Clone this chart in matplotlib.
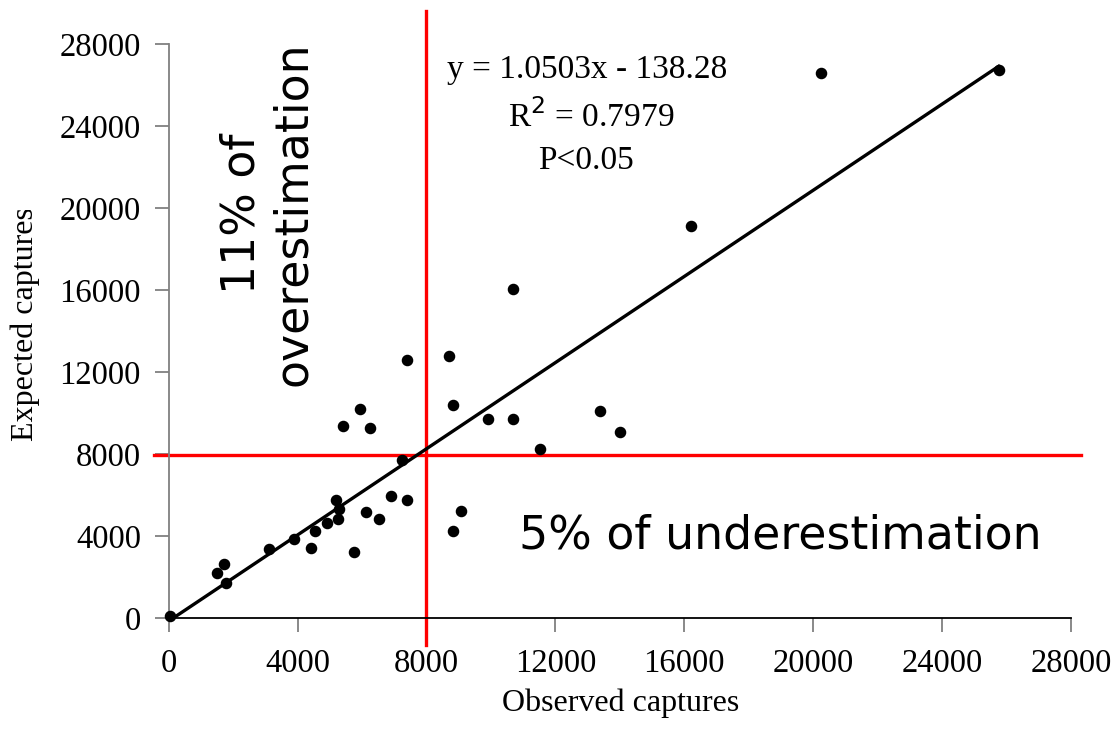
import numpy as np
import matplotlib
matplotlib.use("Agg")
import matplotlib.pyplot as plt
from matplotlib.transforms import Bbox

# observed vs expected captures
observed = [50, 1508, 1716, 1778, 3113, 3888, 4407, 4531, 4912, 5244,
            5182, 5294, 5750, 6132, 6517, 6898, 7404, 7240, 5418, 5936,
            6256, 7404, 8698, 8822, 9918, 10684, 10684, 8822, 9080, 11522,
            13375, 14014, 20242, 25756, 16199]
expected = [100, 2223, 2633, 1736, 3364, 3852, 3442, 4257, 4632, 4842,
            5768, 5344, 3233, 5168, 4842, 5963, 5768, 7718, 9376, 10190,
            9293, 12608, 12803, 10385, 9693, 9693, 16041, 4232, 5246, 8269,
            10093, 9069, 26601, 26733, 19142]

slope = 1.0503
intercept = -138.28
threshold_x = 8000
threshold_y = 7950
ticks = [0, 4000, 8000, 12000, 16000, 20000, 24000, 28000]

serif = "Liberation Serif"

fig = plt.figure(figsize=(11.17, 7.47), dpi=100)
ax = fig.add_axes([0.1510, 0.1723, 0.8078, 0.7688])

ax.set_xlim(0, 28000)
ax.set_ylim(0, 28000)

# red threshold lines (extend past the axes like the original)
ax.plot([threshold_x, threshold_x], [-1300, 29600], color="red", lw=2.4,
        clip_on=False, zorder=2)
ax.plot([-450, 28300], [threshold_y, threshold_y], color="red", lw=2.4,
        clip_on=False, zorder=2)

# trend line
xs = np.array([min(observed), max(observed)])
ax.plot(xs, slope * xs + intercept, color="black", lw=2.4, zorder=3)

ax.plot(observed, expected, "o", color="black", ms=7.3, zorder=4, clip_on=False)

for s in ["top", "right"]:
    ax.spines[s].set_visible(False)
ax.spines["left"].set_color("#808080")
ax.spines["left"].set_linewidth(1.3)
ax.spines["bottom"].set_color("black")
ax.spines["bottom"].set_linewidth(1.3)

ax.set_xticks(ticks)
ax.set_yticks(ticks)
ax.set_xticklabels([str(t) for t in ticks])
ax.set_yticklabels([str(t) for t in ticks])
ax.tick_params(axis="both", direction="out", length=10, width=1.3,
               color="#808080", labelsize=23.5)
ax.tick_params(axis="x", pad=12)
ax.tick_params(axis="y", pad=10)
for lab in ax.get_xticklabels() + ax.get_yticklabels():
    lab.set_fontfamily(serif)

fig.text(0.556, 0.058, "Observed captures", family=serif, fontsize=23,
         ha="center", va="center")
ylab = fig.text(0.023, 0.566, "Expected captures", family=serif, fontsize=23,
                ha="center", va="center", rotation=90)
# the original label is cut off at its end
ylab.set_clip_box(Bbox([[0, 0], [120, 747 - 210]]))
ylab.set_clip_on(True)

# regression annotation
ax.text(0.464, 0.955, "y = 1.0503x - 138.28", transform=ax.transAxes,
        family=serif, fontsize=24, ha="center", va="center")
ax.text(0.468, 0.873, "R$^2$ = 0.7979", transform=ax.transAxes,
        family=serif, fontsize=24, ha="center", va="center")
ax.text(0.463, 0.797, "P<0.05", transform=ax.transAxes,
        family=serif, fontsize=24, ha="center", va="center")

ax.text(0.110, 0.705, "11% of\noverestimation", transform=ax.transAxes,
        fontsize=33, rotation=90, ha="center", va="center",
        linespacing=1.2)
ax.text(0.678, 0.143, "5% of underestimation", transform=ax.transAxes,
        fontsize=33, ha="center", va="center")

fig.savefig("out.png", dpi=100, facecolor="white")
